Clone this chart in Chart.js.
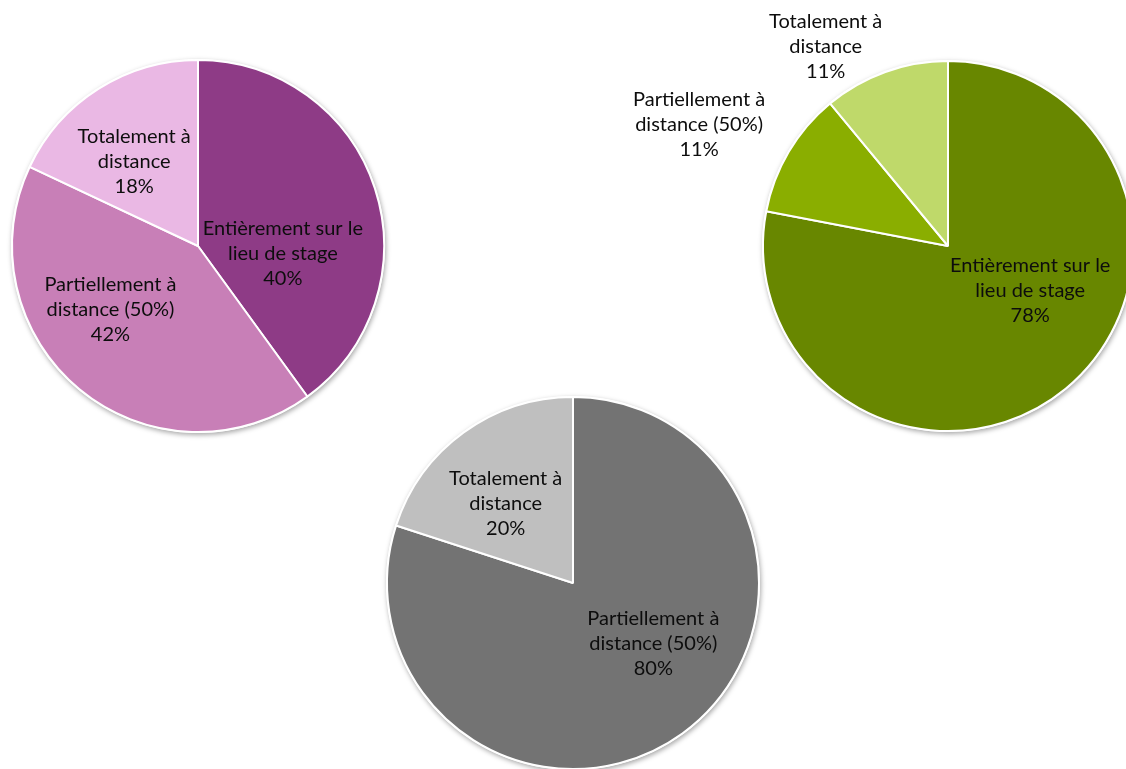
<!DOCTYPE html>
<html lang="fr">
<head>
<meta charset="utf-8">
<title>Lieu du stage</title>
<script src="https://cdn.jsdelivr.net/npm/chart.js@4/dist/chart.umd.min.js"></script>
<style>
    html, body {
        margin: 0;
        padding: 0;
        background: #ffffff;
        overflow: hidden;
        width: 1126px;
        height: 769px;
    }
    canvas {
        position: absolute;
        left: 0;
        top: 0;
    }
</style>
</head>
<body>
<canvas id="pieA" width="1126" height="800"></canvas>
<canvas id="pieB" width="1200" height="800"></canvas>
<canvas id="pieC" width="1126" height="800"></canvas>
<script>
// categories, each split on two lines as in the slice labels
const stageCategories = [
    ['Entièrement sur le', 'lieu de stage'],
    ['Partiellement à', 'distance (50%)'],
    ['Totalement à', 'distance']
];

// share of internships, in %
const pieAValues = [40, 42, 18];
const pieBValues = [78, 11, 11];
const pieCValues = [0, 80, 20];

const pieAColors = ['#8e3b86', '#c87fb7', '#eab8e4'];
const pieBColors = ['#688700', '#8aae00', '#bfd96a'];
const pieCColors = ['#737373', '#737373', '#bfbfbf'];

const BORDER = 2;

// white disc with a soft shadow under the slices
const shadowPlugin = {
    id: 'pieShadow',
    beforeDatasetsDraw(chart) {
        let arc = chart.getDatasetMeta(0).data[0];
        if (!arc) return;
        let ctx = chart.ctx;
        ctx.save();
        ctx.shadowColor = 'rgba(0, 0, 0, 0.35)';
        ctx.shadowBlur = 5;
        ctx.shadowOffsetX = 1;
        ctx.shadowOffsetY = 2;
        ctx.fillStyle = '#ffffff';
        ctx.beginPath();
        ctx.arc(arc.x, arc.y, arc.outerRadius + 1, 0, Math.PI * 2);
        ctx.fill();
        ctx.restore();
    }
};

// category name + percentage, placed along the slice bisector
const sliceLabelPlugin = {
    id: 'sliceLabels',
    afterDatasetsDraw(chart, args, opts) {
        let ctx = chart.ctx;
        let meta = chart.getDatasetMeta(0);
        let values = chart.data.datasets[0].data;
        ctx.save();
        ctx.font = '20px Lato, "Open Sans", sans-serif';
        ctx.fillStyle = '#0d0d0d';
        ctx.textAlign = 'center';
        ctx.textBaseline = 'middle';
        meta.data.forEach(function (arc, i) {
            let pos = opts.placement[i];
            let mid = (arc.startAngle + arc.endAngle) / 2;
            let x = arc.x + Math.cos(mid) * arc.outerRadius * pos.k + pos.dx;
            let y = arc.y + Math.sin(mid) * arc.outerRadius * pos.k + pos.dy;
            let lines = chart.data.labels[i].concat([values[i] + '%']);
            let top = y - (lines.length - 1) * 25 / 2;
            lines.forEach(function (txt, j) {
                ctx.fillText(txt, x, top + j * 25);
            });
        });
        ctx.restore();
    }
};

function drawPie(canvasId, values, colors, cx, cy, r, placement) {
    let canvas = document.getElementById(canvasId);
    let keep = values.map(function (v, i) { return v > 0 ? i : -1; })
        .filter(function (i) { return i >= 0; });
    let size = 2 * r + BORDER;
    let left = cx - size / 2;
    let top = cy - size / 2;

    return new Chart(canvas, {
        type: 'pie',
        data: {
            labels: keep.map(function (i) { return stageCategories[i]; }),
            datasets: [{
                data: keep.map(function (i) { return values[i]; }),
                backgroundColor: keep.map(function (i) { return colors[i]; }),
                borderColor: '#ffffff',
                borderWidth: BORDER
            }]
        },
        options: {
            responsive: false,
            animation: false,
            events: [],
            layout: {
                padding: {
                    left: left,
                    top: top,
                    right: canvas.width - left - size,
                    bottom: canvas.height - top - size
                }
            },
            plugins: {
                legend: {display: false},
                tooltip: {enabled: false},
                sliceLabels: {placement: placement}
            }
        },
        plugins: [shadowPlugin, sliceLabelPlugin]
    });
}

drawPie('pieA', pieAValues, pieAColors, 198, 246, 186, [
    {k: 0.57, dx: -16, dy: 40},
    {k: 0.57, dx: -20, dy: -18},
    {k: 0.57, dx: -7, dy: 5}
]);

drawPie('pieB', pieBValues, pieBColors, 948, 246, 185, [
    {k: 0.57, dx: 15, dy: -37},
    {k: 1.45, dx: -18, dy: 15},
    {k: 1.25, dx: -44, dy: 18}
]);

drawPie('pieC', pieCValues, pieCColors, 573, 583, 186, [
    {k: 0.57, dx: 18, dy: -25},
    {k: 0.57, dx: -5, dy: 6}
]);
</script>
</body>
</html>
